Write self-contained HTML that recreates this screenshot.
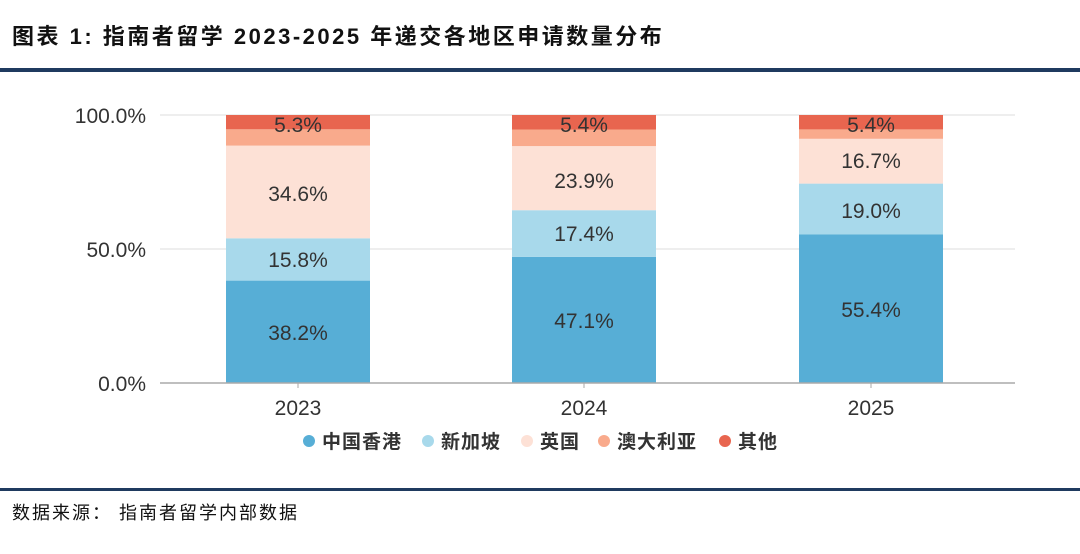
<!DOCTYPE html>
<html><head><meta charset="utf-8"><style>
body{margin:0;background:#fff;}
svg{display:block;}
text{font-family:"Liberation Sans","Noto Sans CJK SC",sans-serif;}
</style></head><body>
<svg width="1080" height="554" viewBox="0 0 1080 554">
<text x="12" y="44" font-size="22" font-weight="bold" fill="#111" letter-spacing="2.5" font-family="'Noto Sans CJK SC','Liberation Sans',sans-serif">图表 1:  指南者留学 2023-2025 年递交各地区申请数量分布</text>
<rect x="0" y="68" width="1080" height="4" fill="#1f3a5f"/>
<line x1="160" y1="115" x2="1015" y2="115" stroke="#ddd"/>
<line x1="160" y1="249" x2="1015" y2="249" stroke="#ddd"/>
<g font-size="21" fill="#333" text-anchor="end">
<text x="146" y="123">100.0%</text><text x="146" y="257">50.0%</text><text x="146" y="391">0.0%</text>
</g>
<rect x="226" y="280.6" width="144" height="102.4" fill="#57aed6"/>
<rect x="226" y="238.3" width="144" height="42.3" fill="#a8d9eb"/>
<rect x="226" y="145.6" width="144" height="92.7" fill="#fde1d6"/>
<rect x="226" y="129.3" width="144" height="16.3" fill="#f9aa8c"/>
<rect x="226" y="115" width="144" height="14.3" fill="#e8654f"/>
<rect x="512" y="256.8" width="144" height="126.2" fill="#57aed6"/>
<rect x="512" y="210.2" width="144" height="46.6" fill="#a8d9eb"/>
<rect x="512" y="146.1" width="144" height="64.1" fill="#fde1d6"/>
<rect x="512" y="129.5" width="144" height="16.6" fill="#f9aa8c"/>
<rect x="512" y="115" width="144" height="14.5" fill="#e8654f"/>
<rect x="799" y="234.5" width="144" height="148.5" fill="#57aed6"/>
<rect x="799" y="183.6" width="144" height="50.9" fill="#a8d9eb"/>
<rect x="799" y="138.8" width="144" height="44.8" fill="#fde1d6"/>
<rect x="799" y="129.4" width="144" height="9.4" fill="#f9aa8c"/>
<rect x="799" y="115" width="144" height="14.4" fill="#e8654f"/>
<line x1="160" y1="383" x2="1015" y2="383" stroke="#aaa" stroke-width="1.5"/>
<line x1="298" y1="383" x2="298" y2="388" stroke="#aaa"/>
<line x1="584" y1="383" x2="584" y2="388" stroke="#aaa"/>
<line x1="871" y1="383" x2="871" y2="388" stroke="#aaa"/>
<g font-size="21" fill="#333" text-anchor="middle">
<text x="298" y="132">5.3%</text><text x="584" y="132">5.4%</text><text x="871" y="132">5.4%</text>
<text x="298" y="201">34.6%</text><text x="584" y="188">23.9%</text><text x="871" y="168">16.7%</text>
<text x="298" y="267">15.8%</text><text x="584" y="241">17.4%</text><text x="871" y="218">19.0%</text>
<text x="298" y="340">38.2%</text><text x="584" y="328">47.1%</text><text x="871" y="317">55.4%</text>
<text x="298" y="415">2023</text><text x="584" y="415">2024</text><text x="871" y="415">2025</text>
</g>
<g font-size="19" font-weight="bold" fill="#333" letter-spacing="1" font-family="'Noto Sans CJK SC','Liberation Sans',sans-serif">
<circle cx="309" cy="441" r="6" fill="#57aed6"/><text x="322" y="448">中国香港</text>
<circle cx="428" cy="441" r="6" fill="#a8d9eb"/><text x="441" y="448">新加坡</text>
<circle cx="527" cy="441" r="6" fill="#fde1d6"/><text x="540" y="448">英国</text>
<circle cx="604" cy="441" r="6" fill="#f9aa8c"/><text x="617" y="448">澳大利亚</text>
<circle cx="725" cy="441" r="6" fill="#e8654f"/><text x="738" y="448">其他</text>
</g>
<rect x="0" y="488" width="1080" height="3" fill="#1f3a5f"/>
<text x="12" y="519" font-size="18" fill="#111" letter-spacing="2" font-family="'Noto Serif CJK SC','Noto Sans CJK SC',serif">数据来源：  指南者留学内部数据</text>
</svg>
</body></html>
